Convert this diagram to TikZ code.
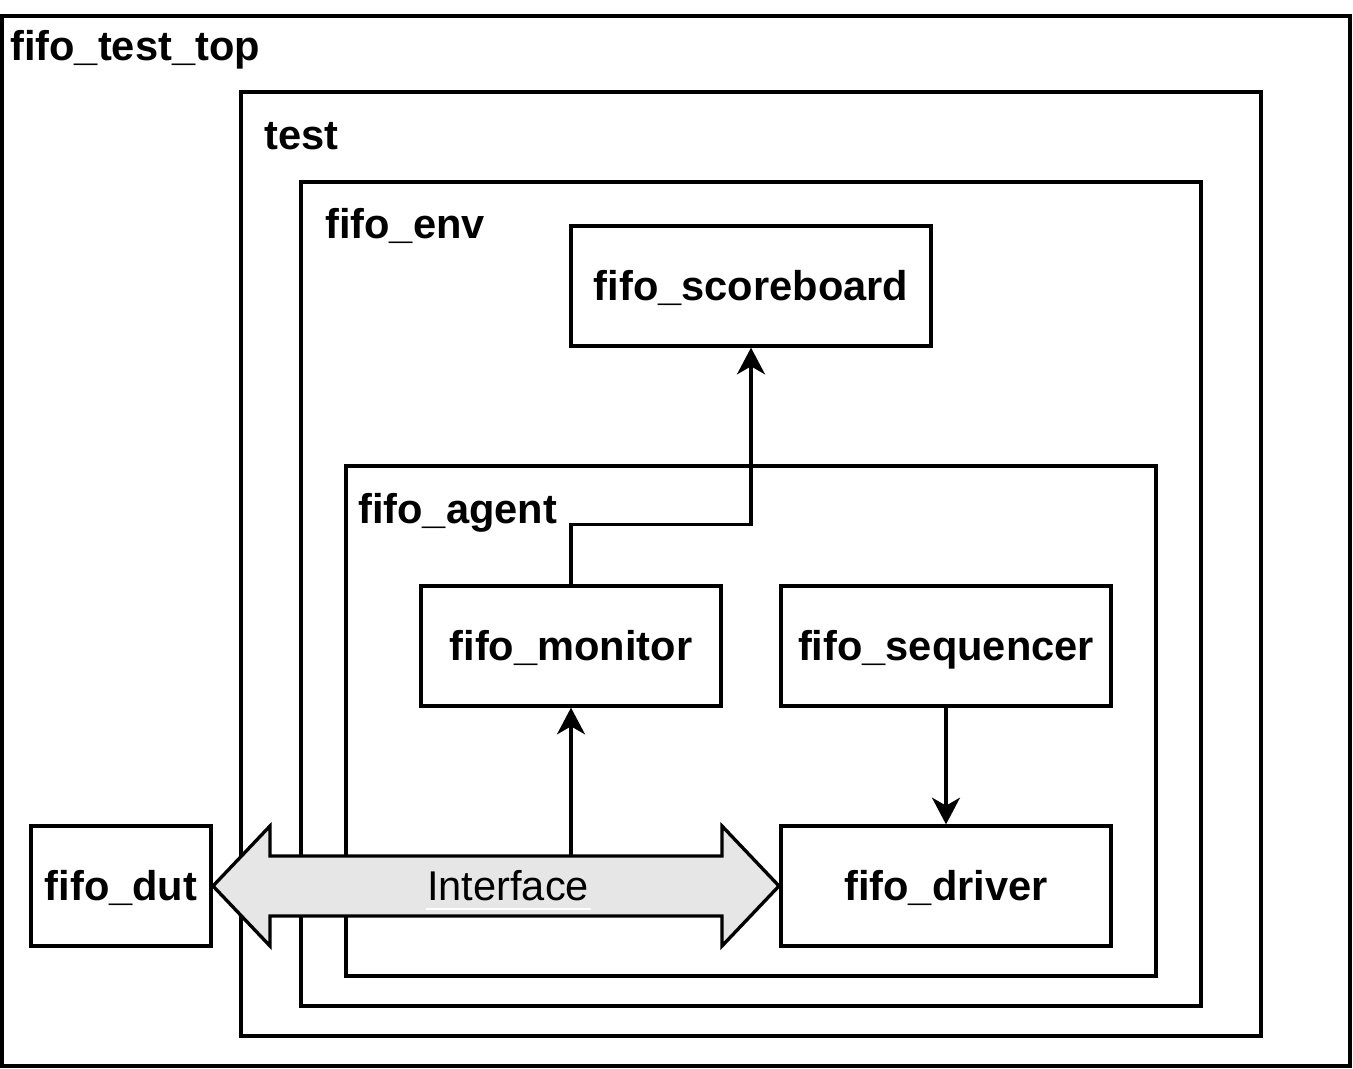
\documentclass[tikz,border=0pt]{standalone}
\usepackage{fontspec}
\setmainfont{Liberation Sans}
\usetikzlibrary{arrows.meta}
\definecolor{ifgray}{HTML}{E6E6E6}
\tikzset{
  frame/.style={draw=black, line width=2.5pt},
  lbl/.style={anchor=base west, inner sep=0pt, font=\fontsize{31.2pt}{37pt}\selectfont\bfseries},
  blk/.style={draw=black, line width=2.5pt, fill=white, inner sep=0pt,
    font=\fontsize{31.2pt}{37pt}\selectfont\bfseries, text height=28.24pt, text depth=6.61pt},
  conn/.style={line width=2.5pt, -{Stealth[length=20pt,width=21pt,inset=6pt]}},
}
\begin{document}
\begin{tikzpicture}[x=0.75pt,y=-0.75pt]
\useasboundingbox (0,0) rectangle (1353,1068);
% containers
\draw[frame] (2,16) rectangle (1350,1066);
\node[lbl] (ltop) at (10,60) {fifo\_test\_top};
\draw[frame] (241,92) rectangle (1261,1036);
\node[lbl] (ltest) at (264,149) {test};
\draw[frame] (301,182) rectangle (1201,1006);
\node[lbl] (lenv) at (325,238) {fifo\_env};
\draw[frame] (346,466) rectangle (1156,976);
\node[lbl] (lagent) at (358,523) {fifo\_agent};
% blocks
\node[blk, minimum width=360*0.75pt, minimum height=120*0.75pt] (score) at (751,286) {fifo\_scoreboard};
\node[blk, minimum width=300*0.75pt, minimum height=120*0.75pt] (mon) at (571,646) {fifo\_monitor};
\node[blk, minimum width=330*0.75pt, minimum height=120*0.75pt] (seq) at (946,646) {fifo\_sequencer};
\node[blk, minimum width=330*0.75pt, minimum height=120*0.75pt] (drv) at (946,886) {fifo\_driver};
\node[blk, minimum width=180*0.75pt, minimum height=120*0.75pt] (dut) at (121,886) {fifo\_dut};
% interface double arrow
\draw[line width=2.5pt, fill=ifgray, line join=miter]
  (213,886) -- (270,826) -- (270,856) -- (722,856) -- (722,826) -- (779,886)
  -- (722,946) -- (722,916) -- (270,916) -- (270,946) -- cycle;
\draw[white, line width=1.6pt] (426,909) -- (591,909);
\node[inner sep=0pt, font=\fontsize{31.2pt}{37pt}\selectfont, text height=28.24pt, text depth=6.61pt] (iface) at (508,886) {Interface};
\coordinate (iftop) at (571,856);
% connectors
\draw[conn] (iftop) -- (mon.south);
\draw[conn] (mon.north) -- ++(0,-60) -| (score.south);
\draw[conn] (seq.south) -- (drv.north);
\end{tikzpicture}
\end{document}
